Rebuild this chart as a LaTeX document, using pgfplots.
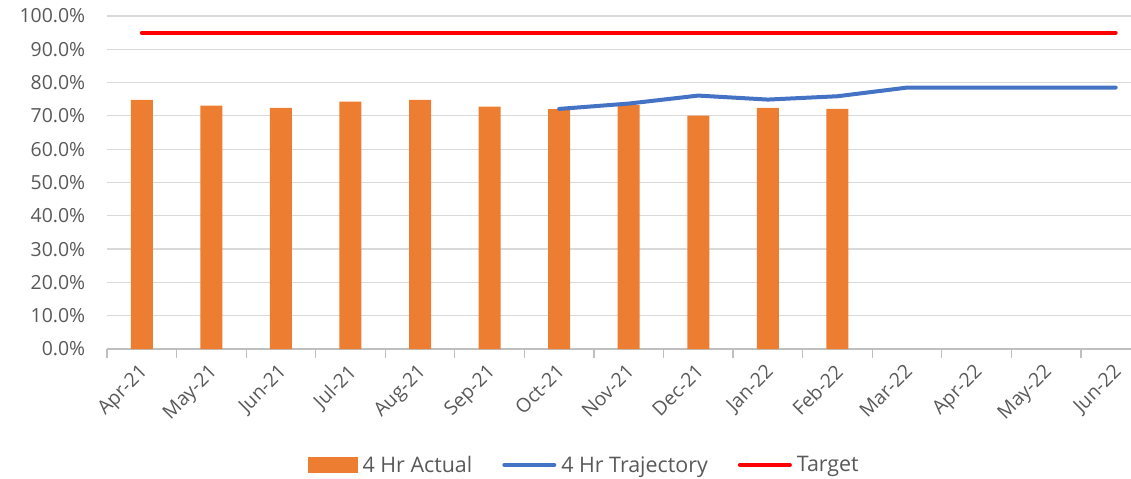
\documentclass[border=0pt]{standalone}
\usepackage{pgfplots}
\pgfplotsset{compat=1.18}
\usepackage{fontspec}
\setmainfont{Open Sans}
\definecolor{barorange}{HTML}{ED7D31}
\definecolor{trajblue}{HTML}{4472C4}
\definecolor{tgtred}{HTML}{FF0000}
\definecolor{txtgray}{HTML}{595959}
\definecolor{gridgray}{HTML}{D9D9D9}
\definecolor{axgray}{HTML}{BFBFBF}
\begin{document}
\begin{tikzpicture}
\useasboundingbox (0,0) rectangle (1131bp,479bp);
\begin{axis}[
  at={(107bp,130bp)}, anchor=south west,
  scale only axis, width=1024bp, height=333bp,
  xmin=-0.5, xmax=14.22, ymin=0, ymax=100,
  axis lines*=left,
  y axis line style={draw=none},
  x axis line style={axgray, line width=1.2bp},
  ymajorgrids, grid style={gridgray, line width=1.2bp},
  ytick={0,10,...,100},
  yticklabel={\pgfmathprintnumber[fixed,fixed zerofill,precision=1]{\tick}\%},
  /pgf/number format/assume math mode=true,
  major y tick style={draw=none},
  xtick={0,...,14},
  xticklabels={Apr-21,May-21,Jun-21,Jul-21,Aug-21,Sep-21,Oct-21,Nov-21,Dec-21,Jan-22,Feb-22,Mar-22,Apr-22,May-22,Jun-22},
  major x tick style={draw=none},
  minor xtick={-0.5,0.5,...,13.5},
  minor tick length=9bp,
  minor x tick style={axgray, line width=1.2bp},
  tick align=outside,
  ticklabel style={font=\fontsize{19.5}{22}\selectfont, text=txtgray},
  yticklabel style={xshift=-14bp},
  xticklabel style={rotate=45, anchor=north east, xshift=-6bp, yshift=-1bp},
  legend style={at={(0.466,-0.348)}, anchor=center, draw=none, fill=none,
    font=\fontsize{21.5}{24}\selectfont, text=txtgray,
    legend columns=3,
    /tikz/every odd column/.append style={column sep=3bp},
    /tikz/every even column/.append style={column sep=28bp}},
  legend cell align=left,
  clip=false,
]
\addplot[ybar, bar width=22bp, bar shift=0pt, fill=barorange, draw=none,
  legend image code/.code={\fill[barorange] (0bp,-8bp) rectangle (50bp,8bp);}]
  coordinates {(0,74.8) (1,73.1) (2,72.4) (3,74.3) (4,74.8) (5,72.8) (6,72.0) (7,73.2) (8,70.1) (9,72.4) (10,72.1)};
\addlegendentry{4 Hr Actual}
\addplot[trajblue, line width=4bp, line cap=round,
  legend image code/.code={\draw[trajblue, line width=4bp, line cap=round] (0bp,0bp) -- (50bp,0bp);}]
  coordinates {(6,72.1) (7,73.7) (8,76.1) (9,74.9) (10,75.9) (11,78.5) (12,78.5) (13,78.5) (14,78.5)};
\addlegendentry{4 Hr Trajectory}
\addplot[tgtred, line width=4bp, line cap=round,
  legend image code/.code={\draw[tgtred, line width=4bp, line cap=round] (0bp,0bp) -- (50bp,0bp);}]
  coordinates {(0,95) (1,95) (2,95) (3,95) (4,95) (5,95) (6,95) (7,95) (8,95) (9,95) (10,95) (11,95) (12,95) (13,95) (14,95)};
\addlegendentry{Target}
\end{axis}
\end{tikzpicture}
\end{document}
